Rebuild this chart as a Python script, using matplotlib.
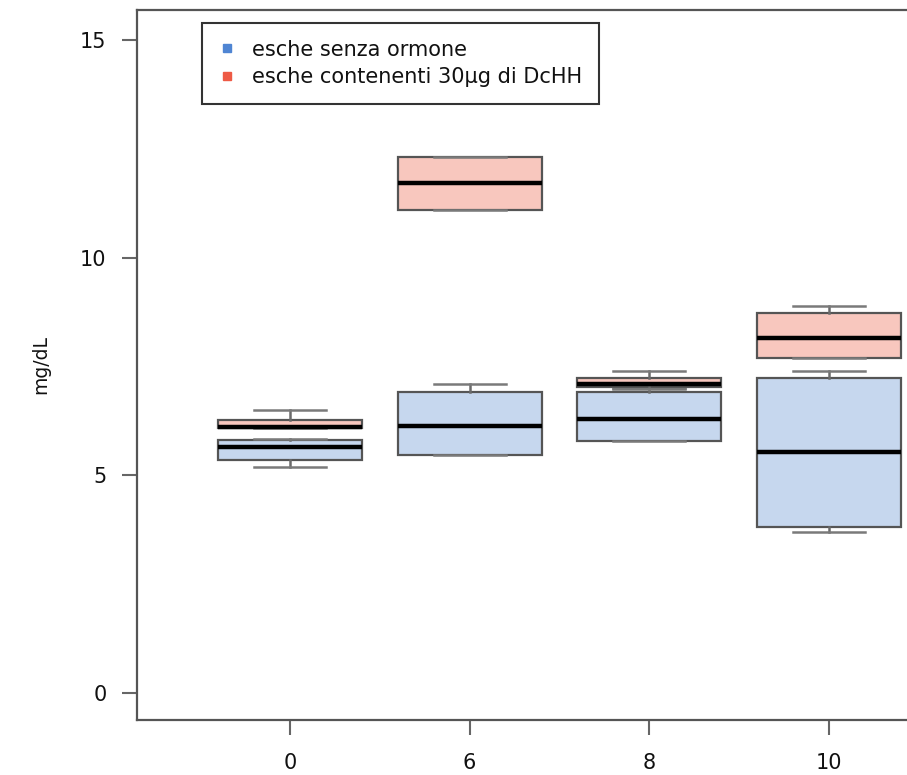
import matplotlib.pyplot as plt
from matplotlib.lines import Line2D

# giorni di campionamento
days = ['0', '6', '8', '10']

# statistiche dei boxplot (mg/dL): baffo basso, Q1, mediana, Q3, baffo alto
ctrl_lo = [5.19, 5.47, 5.79, 3.70]
ctrl_q1 = [5.35, 5.47, 5.79, 3.81]
ctrl_med = [5.65, 6.13, 6.29, 5.54]
ctrl_q3 = [5.81, 6.91, 6.91, 7.24]
ctrl_hi = [5.83, 7.10, 7.00, 7.40]

horm_lo = [6.09, 11.10, 6.98, 7.70]
horm_q1 = [6.09, 11.10, 7.03, 7.70]
horm_med = [6.11, 11.72, 7.10, 8.16]
horm_q3 = [6.27, 12.31, 7.24, 8.73]
horm_hi = [6.50, 12.31, 7.40, 8.89]

labels = ['esche senza ormone', 'esche contenenti 30µg di DcHH']


def make_stats(lo, q1, med, q3, hi):
    stats = []
    for i in range(len(days)):
        stats.append({'whislo': lo[i], 'q1': q1[i], 'med': med[i],
                      'q3': q3[i], 'whishi': hi[i], 'fliers': []})
    return stats


fig = plt.figure(figsize=(9.07, 7.75), dpi=100)
# il lato destro del riquadro resta fuori dall'immagine
ax = fig.add_axes([137 / 907, 1 - 720 / 775, 845 / 907, 710 / 775])

pos = list(range(1, len(days) + 1))
groups = [
    (make_stats(ctrl_lo, ctrl_q1, ctrl_med, ctrl_q3, ctrl_hi), '#c6d7ee'),
    (make_stats(horm_lo, horm_q1, horm_med, horm_q3, horm_hi), '#f8c7be'),
]
for stats, fill in groups:
    ax.bxp(stats, positions=pos, widths=0.8, capwidths=0.4,
           patch_artist=True, showfliers=False, manage_ticks=False,
           boxprops=dict(facecolor=fill, edgecolor='#555555', linewidth=1.6),
           medianprops=dict(color='black', linewidth=3.2, solid_capstyle='butt'),
           whiskerprops=dict(color='#6a6a6a', linewidth=1.8),
           capprops=dict(color='#7a7a7a', linewidth=1.8))

ax.set_xlim(0.15, 4.85)
ax.set_ylim(-0.62, 15.69)
ax.set_xticks(pos)
ax.set_xticklabels(days)
ax.set_yticks([0, 5, 10, 15])

for s in ax.spines.values():
    s.set_color('#555555')
    s.set_linewidth(1.6)
ax.tick_params(axis='both', direction='out', length=11, width=1.5,
               color='#666666', labelsize=15, labelcolor='#111111')
ax.tick_params(axis='x', pad=13)
ax.tick_params(axis='y', pad=11)
ax.set_ylabel('mg/dL', fontsize=13.5, color='#111111')
ax.yaxis.set_label_coords(-0.103, 0.5)

handles = [
    Line2D([], [], linestyle='none', marker='s', markersize=6,
           markerfacecolor='#4f85d3', markeredgecolor='#4f85d3'),
    Line2D([], [], linestyle='none', marker='s', markersize=6,
           markerfacecolor='#ee5a45', markeredgecolor='#ee5a45'),
]
leg = ax.legend(handles, labels, loc='upper left',
                bbox_to_anchor=(202 / 907, 1 - 23 / 775),
                bbox_transform=fig.transFigure, borderaxespad=0,
                fontsize=15, fancybox=False, framealpha=1,
                handlelength=0.8, handletextpad=0.8, borderpad=0.8,
                labelspacing=0.35)
leg.get_frame().set_edgecolor('#333333')
leg.get_frame().set_linewidth(1.5)
for t in leg.get_texts():
    t.set_color('#111111')

fig.savefig('out.png', dpi=100)
